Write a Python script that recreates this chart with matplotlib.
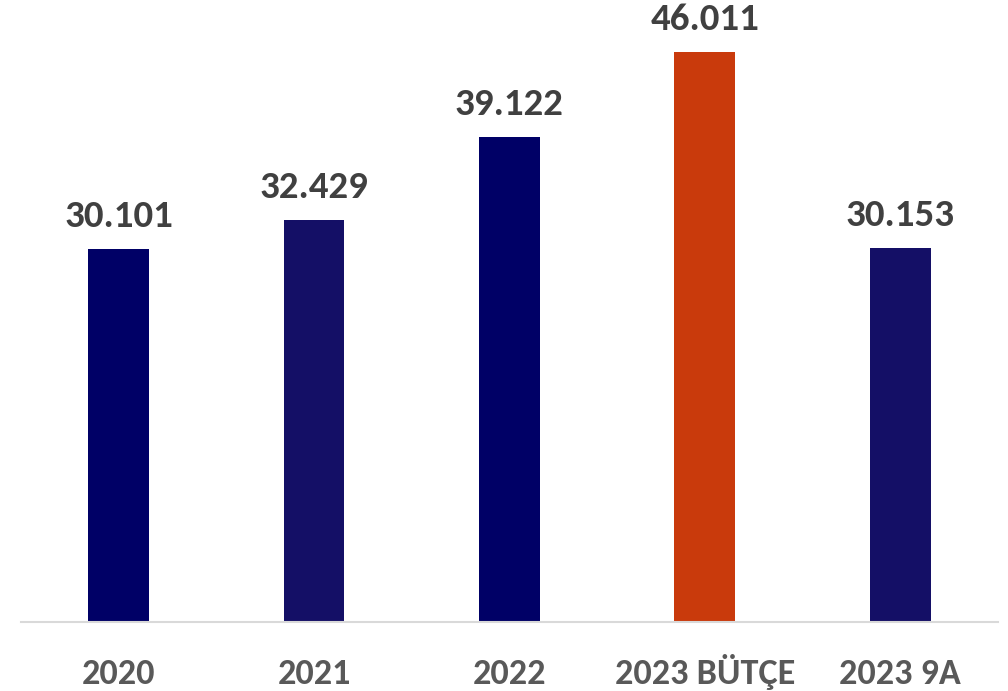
import matplotlib
matplotlib.use("Agg")
import matplotlib.pyplot as plt

categories = ["2020", "2021", "2022", "2023 BÜTÇE", "2023 9A"]
values = [30.101, 32.429, 39.122, 46.011, 30.153]
value_labels = ["30.101", "32.429", "39.122", "46.011", "30.153"]
colors = ["#000066", "#140F66", "#000066", "#C93A0C", "#140F66"]

font = ["Carlito", "Lato", "DejaVu Sans"]

fig = plt.figure(figsize=(10.08, 6.91), dpi=100)
ax = fig.add_axes([0.0208, 0.0999, 0.969, 0.8965])

xs = list(range(len(categories)))
bars = ax.bar(xs, values, width=0.312, color=colors)

# value labels above the bars
for b, lab in zip(bars, value_labels):
    ax.annotate(lab, (b.get_x() + b.get_width() / 2, b.get_height()),
                xytext=(0, 16), textcoords="offset points",
                ha="center", va="baseline", fontsize=28, fontweight="bold",
                color="#404040", family=font)

# category labels, baseline aligned
for x, cat in zip(xs, categories):
    ax.text(x, -0.1, cat, transform=ax.get_xaxis_transform(),
            ha="center", va="baseline", fontsize=26, fontweight="bold",
            color="#595959", family=font)

ax.set_xlim(-0.5, 4.5)
ax.set_ylim(0, 50)
ax.set_xticks([])
ax.set_yticks([])
for s in ["top", "right", "left"]:
    ax.spines[s].set_visible(False)
ax.spines["bottom"].set_color("#D9D9D9")
ax.spines["bottom"].set_linewidth(1.5)

fig.savefig("out.png", dpi=100)
